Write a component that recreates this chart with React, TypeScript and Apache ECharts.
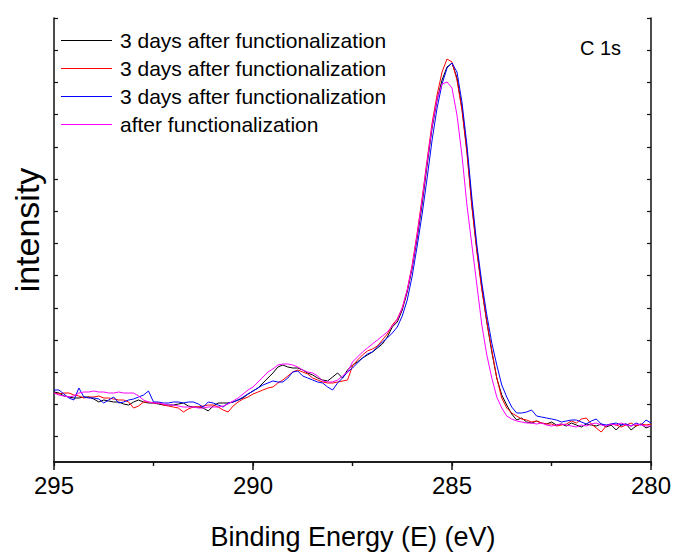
import React, { useEffect, useRef } from "react";
import * as echarts from "echarts";

// Binding energy grid (eV), 295 -> 280 in 0.125 eV steps
const energies: number[] = Array.from({ length: 121 }, (_, i) => 295 - 0.125 * i);

const legendLabels = [
  "3 days after functionalization",
  "3 days after functionalization",
  "3 days after functionalization",
  "after functionalization",
];
const seriesColors = ["#000000", "#ff0000", "#0000ff", "#ff00ff"];

const blackValues = [70,69,66,65,64,64,65,65,63,60,62,61,60,60,58,57,60,62,60,59,59,58,57,57,57,58,59,56,55,55,54,51,56,59,59,59,60,62,64,68,71,74,79,84,89,95,97,95,94,94,92,89,87,84,82,81,85,89,84,92,97,100,104,107,110,114,118,125,135,140,152,170,194,224,258,297,334,362,382,395,399,384,354,312,257,212,174,140,110,84,67,57,48,42,44,40,39,41,39,38,40,37,38,36,39,37,35,38,37,36,38,35,37,32,37,38,32,36,38,34,36];
const redValues = [69,68,69,69,67,66,64,65,65,66,64,64,63,62,62,60,54,56,60,60,59,59,57,56,55,54,50,53,55,55,56,57,57,55,52,50,56,60,63,65,68,70,72,74,75,79,82,86,90,92,90,88,84,82,80,79,79,80,81,82,96,102,107,111,113,116,122,128,137,143,154,172,197,229,264,302,339,367,390,403,400,382,352,309,255,210,172,140,112,84,64,54,49,46,43,42,40,41,39,38,38,36,37,38,41,39,43,44,38,34,30,36,38,37,35,37,39,36,38,37,38];
const blueValues = [72,72,68,64,62,74,65,64,64,63,59,62,65,59,60,62,63,65,67,71,60,60,59,59,60,60,59,60,60,58,55,60,59,57,55,59,60,62,65,68,71,74,77,79,81,80,80,84,90,91,86,84,82,80,79,75,72,79,84,90,94,99,104,108,110,115,120,124,129,135,146,162,186,216,248,284,322,354,378,394,399,390,360,317,264,217,179,147,119,97,77,65,55,49,49,50,52,46,45,44,43,42,40,41,42,42,40,38,41,43,38,37,38,39,37,38,36,39,37,42,39];
const magentaValues = [69,67,66,65,66,69,70,70,71,70,70,69,69,70,69,69,69,66,62,60,59,59,58,57,57,56,55,55,55,54,54,55,55,55,56,58,61,64,68,72,75,80,85,90,93,97,98,98,97,95,92,90,89,86,81,80,80,82,86,90,100,105,110,114,118,122,126,130,136,142,154,172,196,227,262,300,336,363,378,380,374,347,307,257,217,177,137,107,84,65,54,46,43,41,40,39,39,38,39,37,36,37,38,37,36,35,37,36,38,39,37,36,38,37,39,37,36,38,37,36,36];

const xTickLabels = [280, 285, 290, 295];
const yTickValues = [25.3, 57.5, 89.7, 121.9, 154.1, 186.3, 218.5, 250.7, 282.9, 315.1, 347.3, 379.5, 411.7, 443.9];

const FONT = "'Liberation Sans', Arial, Helvetica, sans-serif";

export default function App() {
  const ref = useRef<HTMLDivElement>(null);
  useEffect(() => {
    if (!ref.current) return;
    const chart = echarts.init(ref.current, undefined, { renderer: "svg" });
    const allValues = [blackValues, redValues, blueValues, magentaValues];
    const axisLine = { show: true, lineStyle: { color: "#111", width: 1.5 } };
    chart.setOption({
      animation: false,
      backgroundColor: "#ffffff",
      grid: { left: 54, right: 26, top: 18, bottom: 95, containLabel: false },
      legend: {
        orient: "vertical",
        left: 61,
        top: 30,
        padding: 0,
        itemWidth: 51,
        itemHeight: 1.2,
        itemGap: 7,
        icon: "rect",
        selectedMode: false,
        data: ["s0", "s1", "s2", "s3"],
        formatter: (name: string) => legendLabels[Number(name.slice(1))],
        textStyle: { fontFamily: FONT, fontSize: 21, color: "#000", lineHeight: 21, padding: [0, 0, 0, 3] },
      },
      xAxis: [
        {
          type: "value",
          position: "bottom",
          min: 280,
          max: 295,
          interval: 5,
          inverse: true,
          axisLine,
          axisTick: { show: true, inside: false, length: 8, lineStyle: { color: "#111", width: 1.5 } },
          minorTick: { show: true, splitNumber: 2, length: 4, lineStyle: { color: "#111", width: 1.2 } },
          splitLine: { show: false },
          axisLabel: {
            show: true,
            margin: 11,
            fontFamily: FONT,
            fontSize: 24,
            color: "#000",
            formatter: (v: number) => (xTickLabels.includes(v) ? String(v) : ""),
          },
        },
        {
          type: "value",
          position: "top",
          min: 280,
          max: 295,
          interval: 2.5,
          inverse: true,
          axisLine,
          axisTick: { show: true, inside: true, length: 4, lineStyle: { color: "#111", width: 1.2 } },
          splitLine: { show: false },
          axisLabel: { show: false },
        },
      ],
      yAxis: [
        {
          type: "value",
          position: "left",
          min: 0,
          max: 444,
          axisLine,
          axisTick: { show: true, inside: true, length: 4, customValues: yTickValues, lineStyle: { color: "#111", width: 1.2 } },
          splitLine: { show: false },
          axisLabel: { show: false },
        },
        {
          type: "value",
          position: "right",
          min: 0,
          max: 444,
          axisLine,
          axisTick: { show: true, inside: true, length: 4, customValues: yTickValues, lineStyle: { color: "#111", width: 1.2 } },
          splitLine: { show: false },
          axisLabel: { show: false },
        },
      ],
      series: allValues.map((vals, k) => ({
        name: "s" + k,
        type: "line",
        xAxisIndex: 0,
        yAxisIndex: 0,
        showSymbol: false,
        symbol: "none",
        color: seriesColors[k],
        lineStyle: { color: seriesColors[k], width: 1 },
        data: vals.map((v, i) => [energies[i], v]),
      })),
      graphic: [
        {
          type: "text",
          x: 27,
          y: 230,
          rotation: Math.PI / 2,
          style: {
            text: "intensity",
            fontFamily: FONT,
            fontSize: 34,
            fill: "#000",
            align: "center",
            verticalAlign: "middle",
          },
        },
        {
          type: "text",
          x: 353,
          y: 537,
          style: {
            text: "Binding Energy (E) (eV)",
            fontFamily: FONT,
            fontSize: 27,
            fill: "#000",
            align: "center",
            verticalAlign: "middle",
          },
        },
        {
          type: "text",
          x: 621,
          y: 48,
          style: {
            text: "C 1s",
            fontFamily: FONT,
            fontSize: 20,
            fill: "#000",
            align: "right",
            verticalAlign: "middle",
          },
        },
      ],
    });
    return () => chart.dispose();
  }, []);
  return <div ref={ref} style={{ width: 677, height: 557, position: "absolute", left: 0, top: 0 }} />;
}
